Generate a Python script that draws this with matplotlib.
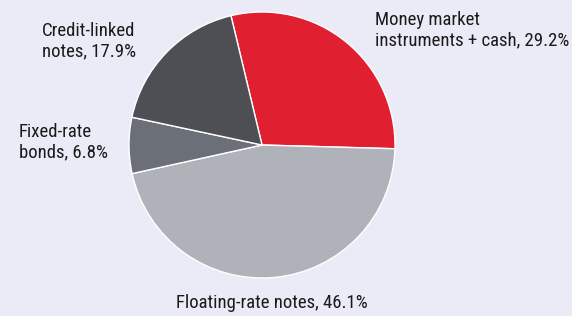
import matplotlib.pyplot as plt
from matplotlib import font_manager

labels = ['Money market\ninstruments + cash, 29.2%', 'Floating-rate notes, 46.1%',
          'Fixed-rate\nbonds, 6.8%', 'Credit-linked\nnotes, 17.9%']
values = [29.2, 46.1, 6.8, 17.9]
colors = ['#e01f30', '#b0b2ba', '#6b6f78', '#4e4f55']

names = {f.name for f in font_manager.fontManager.ttflist}
fam, size = 'Roboto', 12
for cand in ['Roboto Condensed', 'Liberation Sans Narrow']:
    if cand in names:
        fam, size = cand, 13.5
        break
plt.rcParams['font.family'] = [fam, 'DejaVu Sans']

bg = '#eaebf7'
fig = plt.figure(figsize=(5.72, 3.16), dpi=100, facecolor=bg)
ax = fig.add_axes([0, 0, 1, 1])
ax.set_facecolor(bg)

cx, cy, r = 262, 145, 133
ax.pie(values, colors=colors, startangle=103.5, counterclock=False,
       wedgeprops=dict(edgecolor='white', linewidth=1))
ax.set_aspect('auto')
ax.set_xlim(-cx / r, (572 - cx) / r)
ax.set_ylim(-(316 - cy) / r, cy / r)
ax.axis('off')


def px(x, y):
    return (x - cx) / r, (cy - y) / r


# label positions (pixels in the original picture)
pos = [(375, 30, 'left'), (272, 303, 'center'), (19, 142, 'left'), (42, 41, 'left')]
for lab, (x, y, ha) in zip(labels, pos):
    tx, ty = px(x, y)
    ax.text(tx, ty, lab, ha=ha, va='center', fontsize=size, color='#1a1a1a',
            linespacing=1.15)

plt.savefig('out.png', dpi=100, facecolor=bg)
